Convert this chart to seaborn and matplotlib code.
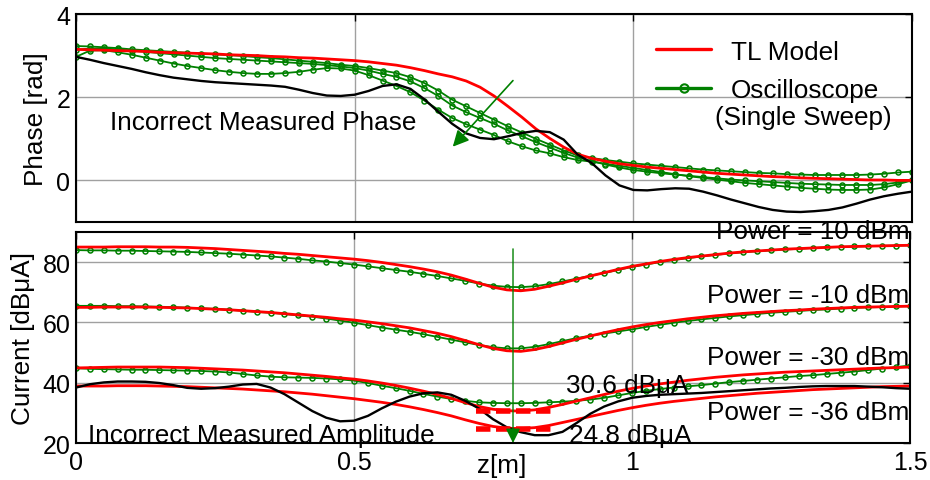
import numpy as np
import matplotlib
matplotlib.use("Agg")
import matplotlib.pyplot as plt
from matplotlib.lines import Line2D
import seaborn as sns

# Position along the line [m]; every series below is sampled on this grid
z = np.linspace(0.0, 1.5, 61)

# ---- Phase [rad] ----
phase_tl = [3.15, 3.14, 3.13, 3.12, 3.11, 3.10, 3.08, 3.07, 3.06, 3.05, 3.04, 3.02, 3.01, 3.00, 2.98, 2.97,
            2.95, 2.94, 2.92, 2.90, 2.88, 2.85, 2.81, 2.77, 2.71, 2.64, 2.56, 2.49, 2.39, 2.24, 2.03, 1.78,
            1.52, 1.24, 1.01, 0.80, 0.63, 0.53, 0.46, 0.40, 0.36, 0.32, 0.29, 0.26, 0.23, 0.20, 0.17, 0.15,
            0.13, 0.11, 0.09, 0.08, 0.06, 0.05, 0.04, 0.03, 0.02, 0.01, 0.01, 0.00, 0.00]
phase_scope_a = [3.23, 3.22, 3.20, 3.18, 3.15, 3.13, 3.11, 3.09, 3.07, 3.05, 3.03, 3.01, 2.99, 2.96, 2.94, 2.91,
                 2.88, 2.85, 2.82, 2.78, 2.75, 2.70, 2.64, 2.58, 2.48, 2.34, 2.16, 1.94, 1.78, 1.62, 1.46, 1.30,
                 1.15, 1.00, 0.86, 0.72, 0.60, 0.54, 0.49, 0.45, 0.41, 0.38, 0.35, 0.32, 0.29, 0.26, 0.24, 0.22,
                 0.20, 0.18, 0.17, 0.15, 0.14, 0.13, 0.13, 0.13, 0.13, 0.14, 0.16, 0.19, 0.21]
phase_scope_b = [3.14, 3.17, 3.17, 3.15, 3.12, 3.09, 3.06, 3.03, 3.00, 2.97, 2.94, 2.92, 2.90, 2.88, 2.86, 2.84,
                 2.82, 2.80, 2.77, 2.74, 2.70, 2.64, 2.56, 2.49, 2.38, 2.22, 2.03, 1.80, 1.64, 1.50, 1.36, 1.20,
                 1.06, 0.92, 0.79, 0.66, 0.55, 0.47, 0.38, 0.31, 0.25, 0.21, 0.17, 0.14, 0.11, 0.08, 0.05, 0.02,
                 0.00, -0.02, -0.04, -0.06, -0.08, -0.09, -0.10, -0.11, -0.11, -0.11, -0.09, -0.05, 0.00]
phase_scope_c = [2.97, 3.12, 3.13, 3.08, 3.02, 2.95, 2.88, 2.81, 2.75, 2.70, 2.65, 2.61, 2.58, 2.56, 2.56, 2.58,
                 2.61, 2.66, 2.70, 2.69, 2.64, 2.53, 2.40, 2.27, 2.12, 1.92, 1.70, 1.50, 1.35, 1.22, 1.09, 0.94,
                 0.82, 0.72, 0.65, 0.56, 0.49, 0.45, 0.40, 0.35, 0.30, 0.25, 0.20, 0.15, 0.10, 0.06, 0.02, -0.02,
                 -0.06, -0.09, -0.12, -0.15, -0.18, -0.20, -0.22, -0.23, -0.23, -0.22, -0.17, -0.09, 0.00]
phase_wrong = [2.97, 2.90, 2.82, 2.75, 2.68, 2.60, 2.53, 2.47, 2.43, 2.39, 2.36, 2.34, 2.32, 2.30, 2.28, 2.25,
               2.18, 2.10, 2.04, 2.03, 2.06, 2.15, 2.27, 2.31, 2.20, 1.95, 1.65, 1.36, 1.13, 1.02, 0.99, 1.06,
               1.14, 1.19, 1.16, 0.98, 0.62, 0.42, 0.12, -0.12, -0.23, -0.24, -0.21, -0.19, -0.20, -0.27, -0.36, -0.46,
               -0.55, -0.64, -0.71, -0.75, -0.76, -0.74, -0.71, -0.65, -0.56, -0.46, -0.38, -0.32, -0.27]

# ---- Current [dBuA] per drive power ----
powers = [10, -10, -30, -36]
cur_tl = {
    10: [85.0, 85.0, 85.0, 85.1, 85.1, 85.1, 85.0, 85.0, 84.9, 84.7, 84.5, 84.2, 83.9, 83.6, 83.3, 82.9,
         82.6, 82.2, 81.8, 81.4, 81.0, 80.5, 79.9, 79.2, 78.5, 77.7, 76.8, 75.7, 74.4, 73.0, 71.7, 70.8,
         70.5, 71.0, 72.0, 73.1, 74.3, 75.4, 76.5, 77.6, 78.6, 79.4, 80.2, 80.9, 81.5, 82.0, 82.5, 83.0,
         83.4, 83.7, 84.0, 84.3, 84.5, 84.7, 84.9, 85.1, 85.2, 85.3, 85.4, 85.5, 85.6],
    -10: [65.0, 65.0, 65.1, 65.1, 65.1, 65.1, 65.0, 64.9, 64.8, 64.6, 64.4, 64.2, 63.9, 63.6, 63.3, 62.9,
          62.5, 62.1, 61.7, 61.2, 60.8, 60.2, 59.6, 58.9, 58.2, 57.3, 56.4, 55.3, 54.0, 52.6, 51.4, 50.6,
          50.4, 51.0, 52.0, 53.2, 54.4, 55.5, 56.6, 57.6, 58.5, 59.3, 60.0, 60.6, 61.2, 61.7, 62.2, 62.6,
          63.0, 63.3, 63.6, 63.9, 64.1, 64.4, 64.6, 64.8, 65.0, 65.1, 65.2, 65.3, 65.4],
    -30: [44.9, 45.0, 45.1, 45.2, 45.2, 45.2, 45.2, 45.1, 45.0, 44.8, 44.6, 44.4, 44.2, 43.9, 43.6, 43.3,
          42.9, 42.5, 42.1, 41.6, 41.2, 40.6, 39.9, 39.1, 38.2, 37.2, 36.1, 34.8, 33.4, 32.1, 31.2, 30.7,
          30.6, 31.0, 31.8, 32.8, 33.9, 35.0, 36.1, 37.2, 38.1, 38.9, 39.6, 40.2, 40.8, 41.3, 41.8, 42.2,
          42.6, 42.9, 43.2, 43.5, 43.7, 43.9, 44.1, 44.3, 44.5, 44.7, 44.9, 45.0, 45.2],
    -36: [38.9, 38.9, 38.9, 39.0, 39.0, 39.0, 38.9, 38.8, 38.7, 38.5, 38.3, 38.1, 37.9, 37.6, 37.3, 37.0,
          36.6, 36.2, 35.7, 35.2, 34.7, 34.1, 33.5, 32.8, 32.0, 31.1, 30.1, 29.0, 27.7, 26.5, 25.5, 24.9,
          24.8, 25.1, 25.8, 26.8, 27.8, 28.8, 29.8, 30.8, 31.7, 32.5, 33.2, 33.8, 34.3, 34.8, 35.3, 35.7,
          36.1, 36.5, 36.8, 37.1, 37.4, 37.7, 37.9, 38.1, 38.3, 38.5, 38.7, 38.8, 38.9],
}
cur_scope = {
    10: [84.0, 83.9, 83.9, 83.8, 83.8, 83.7, 83.6, 83.5, 83.4, 83.2, 83.0, 82.8, 82.5, 82.2, 81.9, 81.5,
         81.1, 80.6, 80.2, 79.7, 79.2, 78.6, 78.0, 77.4, 76.8, 76.1, 75.4, 74.6, 73.8, 72.9, 72.2, 71.8,
         71.7, 72.0, 72.7, 73.6, 74.5, 75.5, 76.4, 77.4, 78.4, 79.2, 80.0, 80.7, 81.3, 81.9, 82.4, 82.9,
         83.3, 83.6, 83.9, 84.2, 84.4, 84.7, 84.9, 85.0, 85.2, 85.3, 85.4, 85.5, 85.6],
    -10: [65.5, 65.5, 65.5, 65.4, 65.4, 65.3, 65.2, 65.1, 64.9, 64.7, 64.5, 64.2, 63.9, 63.5, 63.2, 62.8,
          62.3, 61.9, 61.3, 60.6, 59.9, 59.1, 58.3, 57.6, 56.9, 56.1, 55.2, 54.3, 53.4, 52.5, 51.8, 51.4,
          51.4, 51.9, 52.8, 53.8, 54.8, 55.6, 56.3, 57.0, 57.7, 58.5, 59.2, 59.9, 60.5, 61.0, 61.5, 62.0,
          62.4, 62.8, 63.2, 63.5, 63.8, 64.1, 64.3, 64.6, 64.8, 65.0, 65.1, 65.3, 65.4],
    -30: [44.8, 44.6, 44.5, 44.4, 44.3, 44.3, 44.2, 44.1, 44.0, 43.9, 43.7, 43.4, 42.9, 42.4, 42.0, 41.8,
          41.7, 41.6, 41.4, 41.1, 40.7, 39.9, 39.0, 38.2, 37.3, 36.3, 35.4, 34.6, 34.0, 33.5, 33.3, 33.2,
          33.2, 33.3, 33.5, 33.7, 34.0, 34.4, 35.0, 35.8, 36.6, 37.3, 37.9, 38.4, 38.8, 39.2, 39.7, 40.2,
          40.6, 41.0, 41.4, 41.8, 42.2, 42.5, 42.9, 43.3, 43.7, 44.2, 44.7, 45.2, 45.7],
}
cur_wrong = [38.4, 39.5, 40.1, 40.4, 40.4, 40.3, 39.9, 39.2, 38.3, 38.0, 38.2, 38.7, 39.4, 39.6, 38.4, 36.2,
             33.4, 30.6, 28.4, 27.2, 27.4, 29.0, 31.5, 33.7, 35.4, 36.5, 36.8, 36.0, 34.0, 31.4, 27.9, 25.2,
             23.6, 22.6, 22.6, 23.7, 26.6, 29.7, 32.1, 33.8, 35.0, 35.6, 36.0, 36.2, 36.4, 36.6, 36.9, 37.2,
             37.5, 37.8, 38.1, 38.3, 38.6, 38.8, 38.9, 38.9, 38.9, 38.7, 38.5, 38.2, 38.0]

# Minimum TL-model currents for the two weakest drive levels
min_levels = [30.6, 24.8]

RED = "#ff0000"
GREEN = "#008000"

sns.set_style("white")
plt.rcParams["font.family"] = ["Liberation Sans", "DejaVu Sans"]
plt.rcParams.update({"text.color": "black", "axes.labelcolor": "black",
                     "xtick.color": "black", "ytick.color": "black"})
FS = 18.8

fig = plt.figure(figsize=(9.3, 4.81), dpi=100)
ax1 = fig.add_axes([0.0817, 0.5364, 0.8990, 0.4324])
ax2 = fig.add_axes([0.0817, 0.0769, 0.8968, 0.4387])

scope_kw = dict(color=GREEN, lw=1.3, marker="o", markersize=3.6, markerfacecolor="none",
                markeredgecolor=GREEN, markeredgewidth=1.1)

# ---------- phase panel ----------
for s in (phase_scope_a, phase_scope_b, phase_scope_c):
    sns.lineplot(x=z, y=s, ax=ax1, legend=False, **scope_kw)
sns.lineplot(x=z, y=phase_tl, ax=ax1, color=RED, lw=2.0, legend=False)
sns.lineplot(x=z, y=phase_wrong, ax=ax1, color="black", lw=1.7, legend=False)

ax1.annotate("", xy=(0.676, 0.81), xytext=(0.784, 2.40),
             arrowprops=dict(arrowstyle="-|>", color=GREEN, lw=1.2, mutation_scale=24,
                             shrinkA=0, shrinkB=0))
ax1.text(0.061, 1.245, "Incorrect Measured Phase", fontsize=FS, ha="left", va="baseline")

ax1.set_xlim(0, 1.5)
ax1.set_ylim(-1, 4)
ax1.set_xticks([0, 0.5, 1, 1.5])
ax1.set_yticks([0, 2, 4])
ax1.set_xticklabels([])
ax1.set_ylabel("Phase [rad]", fontsize=FS, labelpad=6)

handles = [Line2D([], [], color=RED, lw=2.4),
           Line2D([], [], color=GREEN, lw=2.4, marker="o", markersize=6,
                  markerfacecolor="none", markeredgewidth=1.5)]
leg = ax1.legend(handles, ["TL Model", "Oscilloscope"], frameon=False,
                 fontsize=FS, loc="upper left", bbox_to_anchor=(0.672, 0.965),
                 handlelength=2.1, handletextpad=0.75, labelspacing=0.55, borderaxespad=0.3)
# second line of the oscilloscope entry
ax1.text(0.764, 0.505, "(Single Sweep)", fontsize=FS, ha="left", va="center",
         transform=ax1.transAxes)

# ---------- current panel ----------
for p in (10, -10, -30):
    sns.lineplot(x=z, y=cur_scope[p], ax=ax2, legend=False, **scope_kw)
for p in powers:
    sns.lineplot(x=z, y=cur_tl[p], ax=ax2, color=RED, lw=2.0, legend=False)
sns.lineplot(x=z, y=cur_wrong, ax=ax2, color="black", lw=1.7, legend=False)

ax2.hlines(min_levels, 0.72, 0.855, colors=RED, lw=4.0, linestyles=(0, (2.6, 1.0)), zorder=4)
ax2.annotate("", xy=(0.786, 20), xytext=(0.786, 84.4),
             arrowprops=dict(arrowstyle="-|>", color=GREEN, lw=1.0, mutation_scale=22,
                             shrinkA=0, shrinkB=0), zorder=5)

ax2.text(0.881, 36.8, f"{min_levels[0]} dBμA", fontsize=FS, ha="left", va="baseline")
ax2.text(0.886, 20.2, f"{min_levels[1]} dBμA", fontsize=FS, ha="left", va="baseline")
ax2.text(0.0216, 20.3, "Incorrect Measured Amplitude", fontsize=FS, ha="left", va="baseline")

power_label_y = {10: 87.9, -10: 66.9, -30: 46.2, -36: 28.1}
for p in powers:
    ax2.text(1.499, power_label_y[p], f"Power = {p} dBm", fontsize=FS, ha="right", va="baseline",
             zorder=6)

ax2.set_xlim(0, 1.5)
ax2.set_ylim(20, 90)
ax2.set_xticks([0, 0.5, 1, 1.5])
ax2.set_xticklabels(["0", "0.5", "1", "1.5"])
ax2.set_yticks([20, 40, 60, 80])
ax2.set_ylabel("Current [dBμA]", fontsize=FS, labelpad=5)
ax2.text(0.765, 10.3, "z[m]", fontsize=FS, ha="center", va="baseline")

for ax in (ax1, ax2):
    ax.grid(True, color="#a0a0a0", lw=1.0)
    ax.set_axisbelow(True)
    ax.tick_params(direction="in", top=True, right=True, length=5, width=1.0,
                   labelsize=18, pad=4, colors="black")
    ax.tick_params(axis="x", pad=5)
    for sp in ax.spines.values():
        sp.set_color("black")
        sp.set_linewidth(1.5)
    ax.set_xlabel("")

fig.savefig("out.png", dpi=100)
